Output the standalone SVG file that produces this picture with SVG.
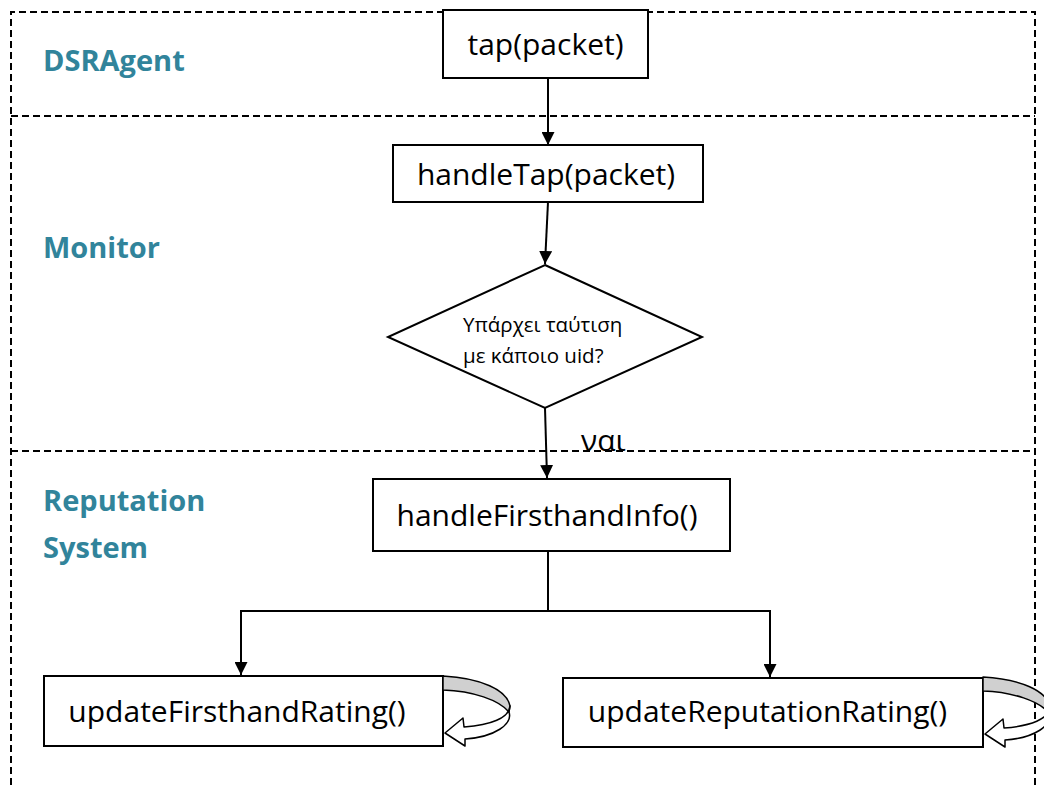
<svg xmlns="http://www.w3.org/2000/svg" width="1044" height="785" viewBox="0 0 1044 785">
  <style>
    .lane { fill: none; stroke: #000; stroke-width: 2; stroke-dasharray: 7 4; }
    .box { fill: #fff; stroke: #000; stroke-width: 2; }
    .edge { fill: none; stroke: #000; stroke-width: 2; }
    .lbl { font-family: "Open Sans", "Liberation Sans", sans-serif; font-weight: bold; font-size: 29px; fill: #31849b; }
    .txt { font-family: "Open Sans", "Liberation Sans", sans-serif; font-size: 30px; fill: #000; }
    .small { font-family: "Open Sans", "Liberation Sans", sans-serif; font-size: 20.5px; fill: #000; }
    .band { fill: #d0d0d0; stroke: #000; stroke-width: 1.5; stroke-linejoin: round; }
    .head { fill: #fff; stroke: #000; stroke-width: 1.5; stroke-linejoin: round; }
  </style>
  <defs>
    <marker id="arrow" viewBox="0 0 10 10" refX="10" refY="5" markerWidth="6.5" markerHeight="6.5" orient="auto" markerUnits="strokeWidth">
      <path d="M0,0 L10,5 L0,10 Z" fill="#000"/>
    </marker>
    <!-- self-loop ribbon arrow, origin at the top-right corner of its box -->
    <g id="loop">
      <path class="band" d="M0,0 C38,2 64,14 67,30 L66,36 C56,24 30,15 0,14 Z"/>
      <path class="head" d="M67,30 C66,42 48,49 21,51 L20,42 L2,57 L22,70 L22,63 C52,61 70,48 66,36 Z"/>
    </g>
  </defs>

  <rect width="1044" height="785" fill="#fff"/>

  <!-- swimlanes -->
  <g id="lanes">
    <path class="lane" d="M11,785 L11,12 L1035,12 L1035,785"/>
    <path class="lane" d="M11,116 L1035,116"/>
    <path class="lane" d="M11,451 L1035,451"/>
  </g>

  <g id="lane-labels">
    <text class="lbl" x="43" y="71">DSRAgent</text>
    <text class="lbl" x="43" y="258">Monitor</text>
    <text class="lbl" x="43" y="511">Reputation</text>
    <text class="lbl" x="43" y="558">System</text>
  </g>

  <!-- connectors -->
  <g id="connectors">
    <line class="edge" x1="548" y1="78" x2="548" y2="145" marker-end="url(#arrow)"/>
    <line class="edge" x1="548" y1="202" x2="545" y2="264" marker-end="url(#arrow)"/>
    <line class="edge" x1="545" y1="408" x2="547" y2="478" marker-end="url(#arrow)"/>
    <polyline class="edge" points="548,551 548,611"/>
    <polyline class="edge" points="241,611 770,611"/>
    <line class="edge" x1="241" y1="610" x2="241" y2="675" marker-end="url(#arrow)"/>
    <line class="edge" x1="770" y1="610" x2="770" y2="677" marker-end="url(#arrow)"/>
    <text class="txt" x="581" y="451" font-size="32">ναι</text>
  </g>

  <g id="tap">
    <rect class="box" x="443" y="10" width="205" height="68"/>
    <text class="txt" x="545.5" y="55" text-anchor="middle">tap(packet)</text>
  </g>

  <g id="handleTap">
    <rect class="box" x="393" y="145" width="310" height="57"/>
    <text class="txt" x="546" y="185" text-anchor="middle">handleTap(packet)</text>
  </g>

  <g id="match-decision">
    <polygon class="box" points="545,265 702,337 545,408 388,337"/>
    <text class="small" x="463" y="332">Υπάρχει ταύτιση</text>
    <text class="small" x="463" y="363">με κάποιο uid?</text>
  </g>

  <g id="handleFirsthandInfo">
    <rect class="box" x="373" y="479" width="357" height="72"/>
    <text class="txt" x="547" y="526" text-anchor="middle">handleFirsthandInfo()</text>
  </g>

  <g id="updateFirsthandRating">
    <rect class="box" x="44" y="676" width="399" height="70"/>
    <text class="txt" x="237" y="722" text-anchor="middle">updateFirsthandRating()</text>
    <use href="#loop" x="443" y="676"/>
  </g>

  <g id="updateReputationRating">
    <rect class="box" x="563" y="678" width="420" height="69"/>
    <text class="txt" x="767.5" y="722" text-anchor="middle">updateReputationRating()</text>
    <use href="#loop" x="983" y="677"/>
  </g>
</svg>
